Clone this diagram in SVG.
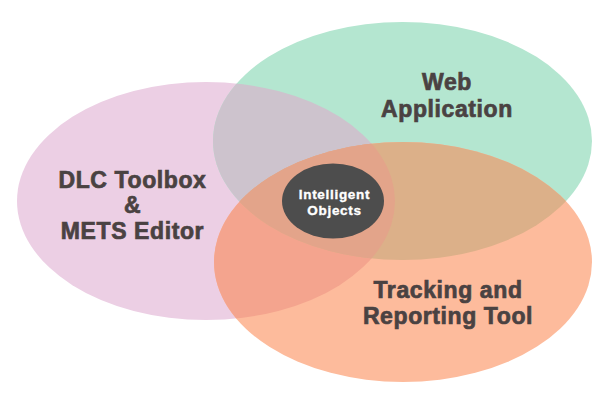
<svg xmlns="http://www.w3.org/2000/svg" width="616" height="400" viewBox="0 0 616 400">
  <style>
    .lbl { font-family: "Liberation Sans", Arial, sans-serif; font-weight: bold; font-size: 23px; letter-spacing: 0.6px; fill: #4a4242; stroke: #4a4242; stroke-width: 0.7px; text-anchor: middle; }
    .core { font-family: "Liberation Sans", Arial, sans-serif; font-weight: bold; font-size: 13.5px; letter-spacing: 0.7px; fill: #ffffff; stroke: #ffffff; stroke-width: 0.35px; text-anchor: middle; }
  </style>
  <defs>
    <clipPath id="cPink"><ellipse cx="206" cy="201" rx="189" ry="119"/></clipPath>
    <clipPath id="cGreen"><ellipse cx="402.5" cy="141" rx="189.5" ry="119"/></clipPath>
    <clipPath id="cOrange"><ellipse cx="403" cy="262" rx="189" ry="120"/></clipPath>
  </defs>
  <rect width="616" height="400" fill="#ffffff"/>
  <g id="dlc-toolbox">
    <ellipse cx="206" cy="201" rx="189" ry="119" fill="#eccfe4"/>
  </g>
  <g id="web-application">
    <ellipse cx="402.5" cy="141" rx="189.5" ry="119" fill="#b4e6d0"/>
  </g>
  <g id="tracking-tool">
    <ellipse cx="403" cy="262" rx="189" ry="120" fill="#fdbb9c"/>
  </g>
  <g id="overlaps">
    <g clip-path="url(#cGreen)"><ellipse cx="206" cy="201" rx="189" ry="119" fill="#cdc3cd"/></g>
    <g clip-path="url(#cOrange)"><ellipse cx="206" cy="201" rx="189" ry="119" fill="#f4a48e"/></g>
    <g clip-path="url(#cOrange)"><ellipse cx="402.5" cy="141" rx="189.5" ry="119" fill="#dcb089"/></g>
    <g clip-path="url(#cOrange)"><g clip-path="url(#cGreen)"><ellipse cx="206" cy="201" rx="189" ry="119" fill="#e3a48a"/></g></g>
  </g>
  <g id="labels">
    <text class="lbl" x="132.5" y="188">DLC Toolbox</text>
    <text class="lbl" x="132.5" y="213">&amp;</text>
    <text class="lbl" x="132.5" y="239">METS Editor</text>
    <text class="lbl" x="447" y="90">Web</text>
    <text class="lbl" x="447" y="117">Application</text>
    <text class="lbl" x="448" y="298">Tracking and</text>
    <text class="lbl" x="448" y="324">Reporting Tool</text>
  </g>
  <g id="intelligent-objects">
    <ellipse cx="333" cy="201" rx="51" ry="37.5" fill="#4d4d4d"/>
    <text class="core" x="334.5" y="199">Intelligent</text>
    <text class="core" x="334.5" y="215">Objects</text>
  </g>
</svg>
